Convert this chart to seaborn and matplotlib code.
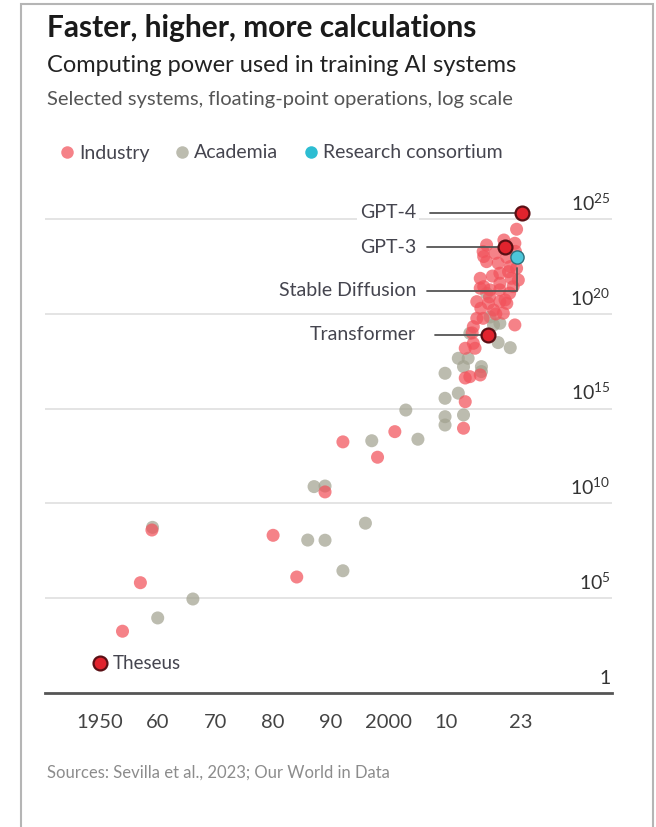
import numpy as np
import pandas as pd
import matplotlib.pyplot as plt
import seaborn as sns
from matplotlib.lines import Line2D
from matplotlib.patches import Rectangle

# Year and log10(FLOP)
industry_year = [1953.9, 1957.0, 1959.0, 1980.0, 1984.1, 1989.0, 1992.1, 1998.1, 2001.1,
                 2013.0, 2013.3, 2013.3, 2014.1, 2015.9, 2013.3, 2015.0, 2014.7, 2014.7,
                 2015.3, 2016.4, 2018.6, 2019.9, 2021.9, 2015.3, 2017.3, 2019.3, 2020.5,
                 2020.2, 2018.2, 2015.9, 2017.6, 2019.3, 2019.3, 2021.6, 2016.5, 2015.9,
                 2019.3, 2021.3, 2022.5, 2017.0, 2019.0, 2021.1, 2020.8, 2022.2, 2016.4,
                 2018.5, 2020.5, 2016.5, 2017.0, 2021.9, 2022.2, 2018.0, 2020.0, 2022.0,
                 2017.5, 2021.0, 2014.5, 2016.0]
industry_exp = [3.26, 5.82, 8.60, 8.32, 6.12, 10.61, 13.25, 12.44, 13.79,
                13.97, 15.37, 16.62, 16.69, 16.78, 18.19, 18.19, 18.45, 19.33,
                19.77, 19.77, 20.0, 20.04, 19.42, 20.65, 20.56, 20.65, 20.56,
                20.74, 20.21, 21.36, 21.27, 21.27, 21.62, 21.44, 21.44, 21.88,
                22.15, 21.88, 21.79, 22.76, 22.68, 22.50, 22.23, 22.41, 23.29,
                23.20, 22.99, 23.03, 23.64, 23.73, 24.47, 22.0, 23.9, 23.3,
                20.9, 21.1, 19.0, 20.3]

academia_year = [1960.0, 1966.1, 1959.1, 1986.0, 1989.0, 1992.1, 1996.0, 1987.1, 1989.0,
                 1997.1, 2003.0, 2005.1, 2009.8, 2009.8, 2013.0, 2009.8, 2012.1, 2009.8,
                 2013.0, 2016.1, 2016.1, 2012.1, 2013.8, 2014.1, 2019.0, 2021.1, 2018.2,
                 2019.3, 2017.0, 2017.6]
academia_exp = [3.96, 4.96, 8.74, 8.07, 8.06, 6.45, 8.96, 10.89, 10.92,
                13.31, 14.93, 13.39, 14.58, 14.14, 14.67, 15.55, 15.82, 16.87,
                17.22, 17.22, 16.96, 17.66, 17.66, 18.98, 18.49, 18.22, 19.42,
                19.51, 21.09, 19.84]

consortium_year = [2022.2]
consortium_exp = [22.99]

# Named systems
named = ['Theseus', 'Transformer', 'GPT-3', 'GPT-4']
named_year = [1950.0, 2017.2, 2020.2, 2023.1]
named_exp = [1.57, 18.89, 23.52, 25.35]
sd_year, sd_exp = 2022.2, 22.41  # Stable Diffusion

xtick_years = [1950, 1960, 1970, 1980, 1990, 2000, 2010, 2020, 2023]
xtick_labels = ['1950', '60', '70', '80', '90', '2000', '10', '', '23']
ygrid_exp = [5, 10, 15, 20, 25]

df = pd.concat([
    pd.DataFrame({'year': academia_year, 'exp': academia_exp, 'sector': 'Academia'}),
    pd.DataFrame({'year': industry_year, 'exp': industry_exp, 'sector': 'Industry'}),
    pd.DataFrame({'year': consortium_year, 'exp': consortium_exp, 'sector': 'Research consortium'}),
], ignore_index=True)
df['flop'] = 10.0 ** df['exp']

hl = pd.DataFrame({'name': named, 'year': named_year, 'flop': 10.0 ** np.array(named_exp)})

sns.set_style('white')
plt.rcParams['font.family'] = ['Lato', 'DejaVu Sans']
plt.rcParams['mathtext.fontset'] = 'custom'
plt.rcParams['mathtext.rm'] = 'Lato'

colors = {'Industry': '#f2525b', 'Academia': '#a2a290', 'Research consortium': '#16b6ce'}
text_col = '#45454f'

fig = plt.figure(figsize=(6.56, 8.27), dpi=100)
W, H = 656, 827
ax = fig.add_axes([45 / W, (H - 693) / H, 567 / W, (693 - 190) / H])

x0, px_per_year = 100, 5.77
ax.set_xlim(1950 + (45 - x0) / px_per_year, 1950 + (612 - x0) / px_per_year)
ax.set_yscale('log')
ax.set_ylim(1, 10 ** 26.54)

for e in ygrid_exp:
    ax.axhline(10.0 ** e, color='#dcdcdc', lw=1.1, zorder=0)

sns.scatterplot(data=df[df.sector != 'Research consortium'], x='year', y='flop', hue='sector',
                palette=colors, s=88, alpha=0.72, linewidth=0, legend=False, ax=ax, zorder=3)
sns.scatterplot(data=df[df.sector == 'Research consortium'], x='year', y='flop',
                color='#4cc6da', s=90, edgecolor='#2d6f7c', linewidth=1.0, legend=False,
                ax=ax, zorder=5)

# annotation lines
lab_x = 1950 + (416 - x0) / px_per_year
line_start = {'GPT-4': 430, 'GPT-3': 427, 'Transformer': 435}
for name, yr, fl in zip(hl['name'], hl['year'], hl['flop']):
    if name == 'Theseus':
        ax.text(yr + 2.2, fl, name, ha='left', va='center', fontsize=13.5, color=text_col, zorder=6)
        continue
    xs = 1950 + (line_start[name] - x0) / px_per_year
    ax.plot([xs, yr], [fl, fl], color='#555555', lw=1.3, zorder=4)
    ax.text(lab_x, fl, name, ha='right', va='center', fontsize=14, color=text_col, zorder=6,
            bbox=dict(facecolor='white', edgecolor='none', pad=2))

sd_line_y = 10 ** ((693 - 291) / 18.95)
xs = 1950 + (427 - x0) / px_per_year
ax.plot([xs, sd_year, sd_year], [sd_line_y, sd_line_y, 10 ** sd_exp], color='#555555', lw=1.3, zorder=4)
ax.text(lab_x, sd_line_y, 'Stable Diffusion', ha='right', va='center', fontsize=14, color=text_col,
        zorder=6, bbox=dict(facecolor='white', edgecolor='none', pad=2))

sns.scatterplot(data=hl, x='year', y='flop', color='#e1232d', s=100, edgecolor='#5a1015',
                linewidth=1.6, legend=False, ax=ax, zorder=7)

# right-hand y labels
for e in [0] + ygrid_exp:
    lab = '1' if e == 0 else r'$\mathregular{10^{%d}}$' % e
    ax.annotate(lab, xy=(0.997, 10.0 ** e), xycoords=('axes fraction', 'data'),
                xytext=(0, 4), textcoords='offset points', ha='right', va='bottom',
                fontsize=14, color='#333333')

ax.set_xticks(xtick_years)
ax.set_xticklabels(xtick_labels)
ax.set_yticks([])
ax.minorticks_off()
ax.tick_params(axis='x', direction='out', length=7, width=1.3, color='#555555',
               labelsize=14.5, labelcolor='#444444', pad=8)
ax.tick_params(axis='y', which='both', left=False, right=False, labelleft=False)
for s in ['top', 'left', 'right']:
    ax.spines[s].set_visible(False)
ax.spines['bottom'].set_color('#555555')
ax.spines['bottom'].set_linewidth(2)
ax.set_xlabel('')
ax.set_ylabel('')

# titles
fig.text(47 / W, 1 - 28 / H, 'Faster, higher, more calculations', fontsize=21.5, fontweight='bold',
         color='#1a1a1a', va='center', ha='left')
fig.text(47 / W, 1 - 66 / H, 'Computing power used in training AI systems', fontsize=17,
         color='#222222', va='center', ha='left')
fig.text(47 / W, 1 - 100 / H, 'Selected systems, floating-point operations, log scale', fontsize=14.5,
         color='#555555', va='center', ha='left')
fig.text(47 / W, 1 - 773 / H, 'Sources: Sevilla et al., 2023; Our World in Data', fontsize=12,
         color='#8c8c8c', va='center', ha='left')

handles = [Line2D([], [], marker='o', ls='', markersize=9, markeredgewidth=0,
                  markerfacecolor=colors[k], alpha=0.72 if k != 'Research consortium' else 0.9)
           for k in ['Industry', 'Academia', 'Research consortium']]
fig.legend(handles, ['Industry', 'Academia', 'Research consortium'], loc='center left',
           bbox_to_anchor=(40 / W, 1 - 153 / H), ncol=3, frameon=False, fontsize=14,
           handletextpad=0.1, columnspacing=1.2, labelcolor=text_col, handlelength=1.0)

fig.add_artist(Rectangle((21 / W, -0.02), (653 - 21) / W, 1.02 - 3.5 / H, transform=fig.transFigure,
                         fill=False, edgecolor='#b5b5b5', lw=1.5))

fig.savefig('out.png', dpi=100)
